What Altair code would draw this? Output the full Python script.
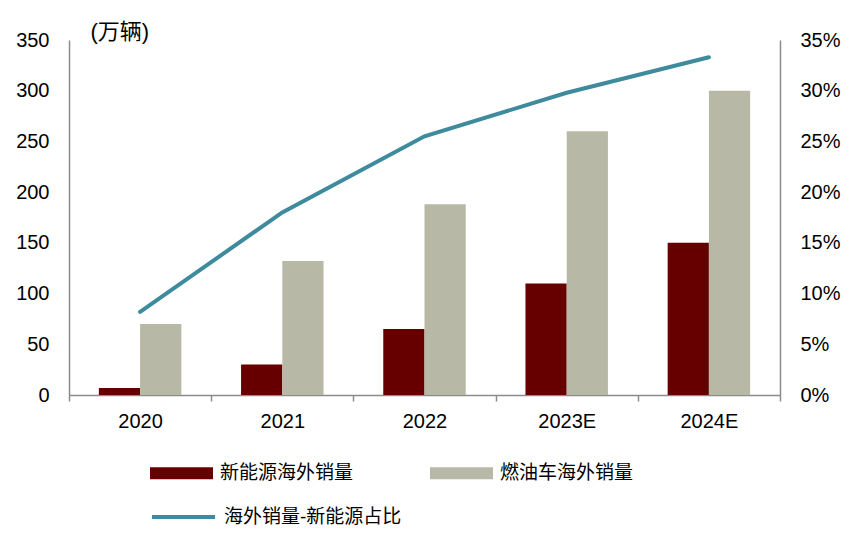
import altair as alt
import pandas as pd

years = ["2020", "2021", "2022", "2023E", "2024E"]
nev_sales = [7, 30, 65, 110, 150]
ice_sales = [70, 132, 188, 260, 300]
nev_share = [0.082, 0.180, 0.255, 0.298, 0.333]

s_nev = "新能源海外销量"
s_ice = "燃油车海外销量"
s_line = "海外销量-新能源占比"

bar_df = pd.DataFrame({
    "year": years * 2,
    "series": [s_nev] * 5 + [s_ice] * 5,
    "value": nev_sales + ice_sales,
})
line_df = pd.DataFrame({"year": years, "share": nev_share, "label": [s_line] * 5})

FONT = "Liberation Sans, Arial, Noto Sans CJK SC"
AX = "#8c8c8c"

bar_xscale = alt.Scale(domain=years, paddingInner=0.42, paddingOuter=0.21)
line_xscale = alt.Scale(domain=years, paddingInner=0, paddingOuter=0)
xaxis = alt.Axis(title=None, labelFontSize=20, labelFont=FONT, labelColor="#000",
                 domainColor=AX, domainWidth=1.5, tickColor=AX, tickWidth=1.5,
                 tickSize=6, tickBand="extent", labelPadding=10, labelAngle=0)

bars = alt.Chart(bar_df).mark_bar().encode(
    x=alt.X("year:N", scale=bar_xscale, axis=None, sort=years),
    xOffset=alt.XOffset("series:N", sort=[s_nev, s_ice],
                        scale=alt.Scale(domain=[s_nev, s_ice], paddingInner=0, paddingOuter=0)),
    y=alt.Y("value:Q", stack=None,
            scale=alt.Scale(domain=[0, 350], nice=False),
            axis=alt.Axis(values=list(range(0, 351, 50)), title="(万辆)", titleAngle=0,
                          titleAlign="left", titleX=21, titleY=-2, titleBaseline="alphabetic",
                          titleFontSize=22, titleFontWeight="normal", titleFont=FONT,
                          labelFontSize=20, labelFont=FONT, labelColor="#000",
                          domainColor=AX, domainWidth=1.5, ticks=False, labelPadding=20,
                          grid=False)),
    fill=alt.Fill("series:N",
                  scale=alt.Scale(domain=[s_nev, s_ice], range=["#660000", "#B8B8A6"]),
                  legend=alt.Legend(title=None, orient="none", legendX=81, legendY=401.5,
                                    columns=2, columnPadding=76, padding=0,
                                    symbolType="M-1,-0.19H1V0.19H-1Z", symbolSize=3969,
                                    symbolStrokeWidth=0, symbolOpacity=1,
                                    labelFontSize=19, labelFont=FONT, labelColor="#000",
                                    labelOffset=7, labelLimit=600)),
)

line = alt.Chart(line_df).mark_line(strokeWidth=4, strokeCap="round").encode(
    x=alt.X("year:N", scale=line_xscale, axis=xaxis, sort=years),
    y=alt.Y("share:Q", scale=alt.Scale(domain=[0, 0.35], nice=False),
            axis=alt.Axis(orient="right", values=[0, 0.05, 0.1, 0.15, 0.2, 0.25, 0.3, 0.35],
                          format=".0%", title=None, labelFontSize=20, labelFont=FONT,
                          labelColor="#000", domainColor=AX, domainWidth=1.5, ticks=False,
                          labelPadding=20, grid=False)),
    stroke=alt.Stroke("label:N", scale=alt.Scale(domain=[s_line], range=["#3D8B9D"]),
                      legend=alt.Legend(title=None, orient="none", legendX=81, legendY=443.5,
                                        padding=0, symbolType="stroke", symbolSize=3969,
                                        symbolStrokeWidth=4,
                                        labelFontSize=19, labelFont=FONT, labelColor="#000",
                                        labelOffset=7, labelLimit=600)),
)

chart = alt.layer(bars, line).resolve_scale(x="independent", y="independent").properties(
    width=711, height=355,
    autosize=alt.AutoSizeParams(type="none"),
    padding={"left": 61, "top": 32, "right": 77, "bottom": 136},
).configure_view(stroke=None)

chart.save("out.html", embed_options={"renderer": "svg", "actions": False})
